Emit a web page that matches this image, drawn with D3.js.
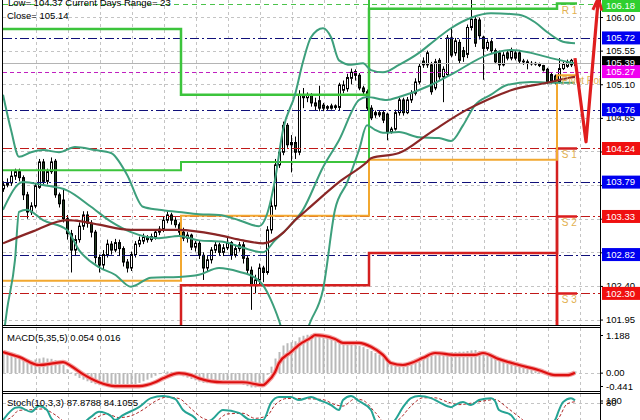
<!DOCTYPE html>
<html><head><meta charset="utf-8">
<script src="https://cdn.jsdelivr.net/npm/d3@7"></script>
<style>body{margin:0;background:#fff}svg{display:block}text{font-family:"Liberation Sans",Arial,sans-serif}</style>
</head><body><svg id="c" width="640" height="420"></svg>
<script>
// ---------- DATA ----------
const openP = [103.70,103.75,103.78,103.87,103.93,103.85,103.62,103.39,103.47,103.72,104.06,103.80,103.93,104.07,103.62,103.55,103.30,103.10,102.88,103.02,103.20,103.35,103.24,103.12,102.78,102.68,102.82,102.96,102.88,102.98,102.90,102.72,102.64,102.82,102.96,103.00,103.05,103.02,103.06,103.12,103.16,103.28,103.35,103.28,103.22,
103.12,103.04,103.08,102.92,102.97,102.81,102.64,102.75,102.88,102.95,102.85,102.91,102.98,102.81,102.90,102.95,102.77,102.61,102.41,102.48,102.64,102.58,103.15,103.47,104.02,104.19,104.55,104.29,104.32,104.19,104.96,104.92,104.95,104.85,104.88,104.82,104.80,104.78,104.81,104.79,105.02,105.04,105.18,105.27,105.22,105.05,105.00,
104.78,104.72,104.69,104.72,104.70,104.46,104.50,104.72,104.89,104.72,104.89,104.98,105.13,105.41,105.36,105.36,105.05,105.42,105.20,105.23,105.72,105.52,105.66,105.55,105.50,105.86,105.97,105.96,105.73,105.58,105.67,105.55,105.52,105.36,105.52,105.45,105.52,105.52,105.41,105.40,105.38,105.38,105.37,105.35,105.30,105.23,105.21,
105.13,105.31,105.34,105.36,105.35];
const highP = [103.80,103.84,103.95,103.97,103.97,103.88,103.66,103.52,103.78,104.10,104.10,103.97,104.12,104.10,103.65,103.70,103.35,103.15,103.08,103.25,103.40,103.40,103.28,103.15,102.82,102.88,103.02,103.00,103.03,103.02,102.93,102.76,102.86,103.00,103.06,103.10,103.08,103.10,103.15,103.20,103.33,103.40,103.38,103.32,103.25,
103.18,103.12,103.10,103.00,103.00,102.85,102.80,102.92,103.00,102.98,102.96,103.06,103.00,102.95,102.99,102.99,102.80,102.66,102.55,102.70,102.67,103.20,103.58,104.10,104.25,104.60,104.58,104.42,104.40,105.02,105.05,104.99,104.98,104.92,105.08,104.85,104.82,104.84,104.83,105.12,105.15,105.24,105.31,105.30,105.25,105.08,105.03,
104.82,104.75,104.75,104.75,104.72,104.53,104.76,104.92,104.92,104.93,105.02,105.18,105.38,105.46,105.55,105.40,105.44,105.45,105.34,105.76,105.86,105.72,105.70,105.60,105.90,106.23,106.00,105.99,105.75,105.70,105.70,105.58,105.55,105.53,105.56,105.59,105.55,105.56,105.44,105.43,105.41,105.40,105.39,105.36,105.32,105.25,105.23,
105.45,105.40,105.43,105.44,105.44];
const lowP = [103.66,103.72,103.74,103.82,103.80,103.55,103.30,103.35,103.44,103.70,103.76,103.76,103.90,103.58,103.45,103.25,103.02,102.58,102.80,102.98,103.15,103.18,103.05,102.70,102.58,102.62,102.78,102.82,102.85,102.80,102.66,102.58,102.60,102.78,102.92,102.96,102.98,102.99,103.02,103.08,103.12,103.24,103.22,103.18,103.08,
103.00,102.98,102.88,102.86,102.76,102.48,102.60,102.70,102.84,102.80,102.80,102.88,102.75,102.78,102.86,102.70,102.55,102.08,102.30,102.40,102.45,102.55,103.10,103.42,103.98,104.15,104.25,103.92,104.10,104.15,104.78,104.86,104.80,104.75,104.74,104.74,104.75,104.76,104.76,104.75,104.98,105.00,105.10,105.15,105.02,104.95,104.75,
104.62,104.65,104.66,104.58,104.35,104.44,104.48,104.68,104.68,104.70,104.85,104.95,105.10,105.32,105.32,104.96,105.02,105.16,104.86,105.20,105.46,105.48,105.38,105.40,105.45,105.82,105.60,105.70,105.16,105.55,105.52,105.37,105.29,105.34,105.42,105.42,105.42,105.38,105.36,105.30,105.35,105.35,105.33,105.27,105.10,105.11,105.10,
105.11,105.29,105.32,105.33,105.33];
const closeP = [103.75,103.78,103.87,103.93,103.85,103.62,103.39,103.47,103.74,104.06,103.80,103.93,104.06,103.62,103.50,103.30,103.10,102.88,103.02,103.20,103.35,103.24,103.12,102.78,102.68,102.82,102.96,102.88,102.98,102.90,102.72,102.64,102.82,102.96,103.01,103.05,103.02,103.06,103.12,103.16,103.28,103.35,103.28,103.22,103.12,
103.04,103.08,102.92,102.97,102.81,102.64,102.75,102.88,102.95,102.85,102.91,102.98,102.81,102.90,102.95,102.77,102.61,102.41,102.48,102.64,102.58,103.15,103.47,104.02,104.19,104.55,104.29,104.32,104.19,104.96,104.92,104.95,104.85,104.81,104.78,104.78,104.78,104.81,104.79,105.09,105.09,105.19,105.26,105.22,105.05,105.00,104.78,
104.65,104.69,104.72,104.62,104.46,104.50,104.72,104.89,104.72,104.89,104.98,105.13,105.34,105.36,105.52,105.00,105.40,105.20,105.30,105.72,105.49,105.68,105.42,105.47,105.86,105.97,105.65,105.75,105.58,105.66,105.55,105.40,105.36,105.49,105.45,105.55,105.45,105.41,105.40,105.39,105.38,105.37,105.35,105.29,105.13,105.14,105.12,
105.31,105.37,105.40,105.42,105.39];

// Bollinger-type bands & MA (index, price)
const bbUpperIdx = [0,2,4,7,10,14,18,23,27,31,35,39,44,49,54,59,64,66,68,70,73,75,77,80,82,84,87,90,92,95,99,104,108,112,117,122,129,133,136,140,143];
const bbUpper = [104.96,104.49,104.13,104.19,104.22,104.19,104.26,104.22,104.18,103.89,103.46,103.42,103.39,103.36,103.35,103.28,103.20,103.36,103.82,104.49,104.96,105.40,105.73,105.85,105.73,105.42,105.36,105.38,105.29,105.26,105.36,105.52,105.69,105.85,105.99,106.05,106.03,105.93,105.80,105.67,105.65];
const bbMidIdx = [0,5,10,16,22,27,32,39,44,49,55,60,65,68,72,75,80,84,89,91,96,99,107,113,121,127,132,137,143];
const bbMid = [103.42,103.79,103.75,103.68,103.46,103.26,103.12,103.04,103.07,103.01,102.99,102.91,102.85,103.01,103.22,103.42,103.99,104.35,104.89,104.93,104.89,104.93,105.09,105.26,105.49,105.56,105.52,105.45,105.38];
const bbLowerIdx = [0,1,3,4,6,10,16,19,24,28,32,37,44,49,54,59,63,65,67,69,71,74,77,80,83,86,89,91,93,95,99,104,109,112,115,118,122,126,132,139,143];
const bbLower = [101.68,102.08,102.75,103.39,103.42,103.28,103.15,102.88,102.65,102.55,102.39,102.51,102.52,102.55,102.64,102.59,102.51,102.41,102.21,101.94,101.61,101.61,101.94,102.35,103.42,103.78,104.22,104.55,104.49,104.45,104.46,104.39,104.38,104.34,104.55,104.82,104.96,105.09,105.13,105.12,105.12];
const maIdx = [0,7,16,20,24,32,44,54,60,65,70,73,76,84,91,92,99,107,116,121,127,136,141,143];
const maVal = [102.97,103.12,103.28,103.26,103.22,103.15,103.15,103.08,103.01,102.97,103.11,103.28,103.42,103.79,104.06,104.11,104.18,104.46,104.76,104.89,105.02,105.12,105.18,105.20];

// daily step levels (4 days)
const dayStart = [0,44.5,91.5,138.5];
const dayEnd = 143.5;
const upperStep = [105.84,104.96,106.11,106.18];
const upperStep2 = [103.95,104.06,106.50,106.50];
const pivotStep = [102.47,103.34,104.09,105.22];
const s1Step = [101.70,102.41,102.84,104.24];
const s2Step = [101.60,101.60,101.60,103.33];
const s3Step = [101.60,101.60,101.60,102.30];
const pivotNames = ["R 1","Pivot Point","S 1","S 2","S 3"];
const pivotLabelLevels = [106.18,105.22,104.24,103.33,102.30];

// horizontal price levels
const levels = [106.18,105.72,105.39,105.27,104.76,104.24,103.79,103.33,102.82,102.30];
const levelKind = ["res","mid","price","piv","mid","sup","mid","sup","mid","sup"];
const priceTicks = [106.00,105.55,105.10,104.65,104.20,103.75,103.30,102.85,102.40,101.95];

// forecast arrow
const arrowIdx = [143,145.75,148.75];
const arrowPrice = [105.45,104.33,106.20];

// MACD(5,35,5)
const macdHist = [0.60,0.58,0.55,0.52,0.50,0.45,0.40,0.38,0.42,0.45,0.48,0.45,0.44,0.40,0.33,0.25,0.12,0.02,-0.08,-0.15,
-0.20,-0.25,-0.30,-0.34,-0.37,-0.40,-0.42,-0.43,-0.44,-0.44,-0.44,-0.43,-0.40,-0.36,-0.30,-0.25,-0.20,-0.14,-0.08,-0.03,
0.02,0.05,0.04,0.00,-0.05,-0.10,-0.14,-0.18,-0.22,-0.26,-0.30,-0.31,-0.30,-0.29,-0.30,-0.30,-0.30,-0.32,-0.33,-0.33,
-0.36,-0.40,-0.44,-0.44,-0.40,-0.30,-0.05,0.20,0.45,0.65,0.85,0.92,0.95,0.98,1.10,1.15,1.18,1.19,1.19,1.17,
1.12,1.08,1.04,1.00,0.96,0.94,0.92,0.90,0.87,0.84,0.80,0.74,0.68,0.62,0.56,0.48,0.40,0.32,0.26,0.22,
0.20,0.24,0.30,0.38,0.46,0.52,0.56,0.58,0.55,0.58,0.60,0.62,0.64,0.65,0.66,0.66,0.68,0.70,0.71,0.68,
0.62,0.55,0.50,0.45,0.40,0.36,0.33,0.30,0.27,0.22,0.19,0.16,0.13,0.10,0.07,0.03,-0.02,-0.05,-0.07,-0.06,
-0.04,-0.02,0.01,0.054];
const macdSigIdx = [0,4,9,13,15,17,20,24,28,34,38,40,44,47,49,55,60,65,66,68,69,72,74,77,78,80,83,85,89,92,95,97,100,102,105,108,113,118,120,124,129,134,138,141,143];
const macdSig = [0.65,0.50,0.25,0.31,0.34,0.22,-0.03,-0.28,-0.40,-0.40,-0.28,-0.16,0.0,-0.06,-0.16,-0.28,-0.28,-0.37,-0.28,0.03,0.31,0.65,0.87,1.09,1.17,1.15,1.05,0.93,0.93,0.81,0.56,0.31,0.25,0.31,0.47,0.62,0.56,0.56,0.62,0.43,0.25,0.09,-0.06,-0.06,0.016];
const macdTicks = [1.188,0.00,-0.441];

// Stochastic(10,3,3)
const stochKIdx = [0,1,3,4,7,9,11,12,14,18,22,24,27,28,30,34,37,40,43,45,48,49,52,55,59,62,65,67,69,72,74,77,79,82,84,85,87,89,92,93,95,98,100,102,104,107,109,112,113,115,117,119,122,123,124,127,128,130,135,138,139,140,142,143];
const stochK = [33,47,67,69,56,72,61,39,22,11,42,56,44,33,47,69,94,100,92,61,39,25,33,61,53,33,33,81,97,97,89,97,89,75,61,89,100,86,61,33,11,33,69,94,100,94,83,69,75,83,75,89,94,86,61,47,33,11,11,33,61,83,94,87.88];
const stochDIdx = [0,2,4,7,10,13,16,20,23,26,29,32,35,38,41,44,47,50,53,56,60,63,66,68,71,74,77,80,83,85,88,90,93,96,99,102,105,108,111,114,117,120,123,126,129,132,136,139,141,143];
const stochD = [30,40,60,62,64,48,25,20,38,50,40,45,62,85,97,93,65,38,30,50,52,38,45,75,93,93,92,90,76,72,92,88,55,22,35,72,95,95,84,76,80,86,90,68,42,18,12,40,78,84.11];
const stochTicks = [100,80];

// ---------- DRAW ----------
const svg = d3.select("#c");
svg.append("rect").attr("width",640).attr("height",420).attr("fill","#fff");
const W = 600, mainB = 325;
const xS = d3.scaleLinear().domain([0,143]).range([3,575]);
const yS = d3.scaleLinear().domain([101.877,106.228]).range([mainB,0]);
const yM = d3.scaleLinear().domain([-0.441,1.188]).range([387.5,334.5]);
const yK = d3.scaleLinear().domain([0,100]).range([432,396]);

const defs = svg.append("defs");
defs.append("clipPath").attr("id","cm").append("rect").attr("x",3).attr("y",0).attr("width",W-3).attr("height",mainB);
defs.append("clipPath").attr("id","cd").append("rect").attr("x",3).attr("y",328).attr("width",W-3).attr("height",63);
defs.append("clipPath").attr("id","ck").append("rect").attr("x",3).attr("y",394).attr("width",W-3).attr("height",26);

const gridIdx = d3.range(8.25,145,8);
const gridCol = "#c4c4c4";
function vgrid(g,y0,y1){
  g.selectAll(null).data(gridIdx).join("line")
   .attr("x1",d=>Math.round(xS(d))+0.5).attr("x2",d=>Math.round(xS(d))+0.5)
   .attr("y1",y0).attr("y2",y1).attr("stroke",gridCol).attr("stroke-dasharray","3,3");
}
// main panel
const gm = svg.append("g").attr("clip-path","url(#cm)");
vgrid(gm,0,mainB);
gm.selectAll(null).data(priceTicks).join("line")
  .attr("x1",3).attr("x2",W).attr("y1",d=>Math.round(yS(d))+0.5).attr("y2",d=>Math.round(yS(d))+0.5)
  .attr("stroke",gridCol).attr("stroke-dasharray","3,3");

// candles
const idx = d3.range(closeP.length);
gm.selectAll(null).data(idx).join("line")
  .attr("x1",i=>Math.round(xS(i))+0.5).attr("x2",i=>Math.round(xS(i))+0.5)
  .attr("y1",i=>yS(highP[i])).attr("y2",i=>yS(lowP[i])).attr("stroke","#000").attr("stroke-width",1);
gm.selectAll(null).data(idx).join("rect")
  .attr("x",i=>Math.round(xS(i))-0.5).attr("width",2)
  .attr("y",i=>Math.min(yS(openP[i]),yS(closeP[i])))
  .attr("height",i=>Math.max(0.5,Math.abs(yS(openP[i])-yS(closeP[i]))))
  .attr("fill",i=>closeP[i]>=openP[i]?"#fff":"#1f3a1f").attr("stroke","#000").attr("stroke-width",1);

// level lines
const lvStyle = {
  res:{c:"#4cc34c",d:"5,4",w:1.2},
  mid:{c:"#10107a",d:"9,3,2,3",w:1.2},
  price:{c:"#b4b4b4",d:null,w:1},
  piv:{c:"#c020c0",d:"4,3",w:1.2},
  sup:{c:"#c01818",d:"9,3,2,3",w:1.2}
};
gm.selectAll(null).data(levels).join("line")
  .attr("x1",3).attr("x2",W).attr("y1",d=>Math.round(yS(d))+0.5).attr("y2",d=>Math.round(yS(d))+0.5)
  .attr("stroke",(d,i)=>lvStyle[levelKind[i]].c).attr("stroke-width",(d,i)=>lvStyle[levelKind[i]].w)
  .attr("stroke-dasharray",(d,i)=>lvStyle[levelKind[i]].d);

// step lines
const stepLine = d3.line().x(d=>xS(d[0])).y(d=>yS(d[1])).curve(d3.curveStepAfter);
function stepPts(vals){ const p = dayStart.map((s,k)=>[s,vals[k]]); p.push([dayEnd,vals[vals.length-1]]); return p; }
function drawStep(vals,col,w){ gm.append("path").attr("d",stepLine(stepPts(vals))).attr("fill","none").attr("stroke",col).attr("stroke-width",w); }
drawStep(upperStep2,"#3cc43c",2);
drawStep(upperStep,"#3cc43c",2.5);
drawStep(s3Step,"#dc1c1c",2.5);
drawStep(s2Step,"#dc1c1c",2.5);
drawStep(s1Step,"#d42020",2.5);
drawStep(pivotStep,"#f2a830",2);

// bands and MA
const cl = d3.line().x(d=>xS(d[0])).y(d=>yS(d[1])).curve(d3.curveMonotoneX);
const bandCol = "#3d9f7c";
[[bbUpperIdx,bbUpper],[bbMidIdx,bbMid],[bbLowerIdx,bbLower]].forEach(([a,b])=>{
  gm.append("path").attr("d",cl(a.map((v,k)=>[v,b[k]]))).attr("fill","none").attr("stroke",bandCol).attr("stroke-width",2);
});
gm.append("path").attr("d",cl(maIdx.map((v,k)=>[v,maVal[k]]))).attr("fill","none").attr("stroke","#8a2626").attr("stroke-width",2.2);

// pivot labels
const gl = svg.append("g").attr("clip-path","url(#cm)");
gl.selectAll(null).data(pivotNames).join("text")
  .attr("x",xS(139.7)).attr("y",(d,i)=>yS(pivotLabelLevels[i])+(i===1?9:10))
  .attr("font-size",10).attr("fill","#e2b050").text(d=>d);

// header text
svg.append("text").attr("x",8).attr("y",6).attr("font-size",9.5).attr("fill","#000").text("Low= 104.37    Current Days Range= 23");
svg.append("text").attr("x",7).attr("y",19).attr("font-size",9.5).attr("fill","#000").text("Close= 105.14");

// MACD panel
const gd = svg.append("g").attr("clip-path","url(#cd)");
vgrid(gd,328,392);
gd.append("line").attr("x1",3).attr("x2",W).attr("y1",Math.round(yM(0))+0.5).attr("y2",Math.round(yM(0))+0.5).attr("stroke",gridCol).attr("stroke-dasharray","3,3");
gd.selectAll(null).data(macdHist).join("rect")
  .attr("x",(d,i)=>Math.round(xS(i))-0.5).attr("width",2)
  .attr("y",d=>Math.min(yM(d),yM(0))).attr("height",d=>Math.abs(yM(d)-yM(0)))
  .attr("fill","#b9b9b9");
const ml = d3.line().x(d=>xS(d[0])).y(d=>yM(d[1])).curve(d3.curveMonotoneX);
const sigPts = macdSigIdx.map((v,k)=>[v,macdSig[k]]);
gd.append("path").attr("d",ml(sigPts)).attr("fill","none").attr("stroke","#f3a0a0").attr("stroke-width",4.5);
gd.append("path").attr("d",ml(sigPts)).attr("fill","none").attr("stroke","#dd1010").attr("stroke-width",2.2);
svg.append("text").attr("x",7).attr("y",341).attr("font-size",9.5).attr("fill","#000").text("MACD(5,35,5) 0.054 0.016");

// Stoch panel
const gk = svg.append("g").attr("clip-path","url(#ck)");
vgrid(gk,394,420);
gk.append("line").attr("x1",3).attr("x2",W).attr("y1",Math.round(yK(80))+0.5).attr("y2",Math.round(yK(80))+0.5).attr("stroke",gridCol).attr("stroke-dasharray","3,3");
const kl = d3.line().x(d=>xS(d[0])).y(d=>yK(d[1])).curve(d3.curveMonotoneX);
gk.append("path").attr("d",kl(stochDIdx.map((v,k)=>[v,stochD[k]]))).attr("fill","none").attr("stroke","#b02a2a").attr("stroke-width",1).attr("stroke-dasharray","3,2");
gk.append("path").attr("d",kl(stochKIdx.map((v,k)=>[v,stochK[k]]))).attr("fill","none").attr("stroke","#25a394").attr("stroke-width",2);
svg.append("text").attr("x",7).attr("y",406).attr("font-size",9.5).attr("fill","#000").text("Stoch(10,3,3) 87.8788 84.1055");

// frames
const fr = svg.append("g").attr("stroke","#000").attr("stroke-width",1);
fr.append("line").attr("x1",2.5).attr("x2",2.5).attr("y1",0).attr("y2",420);
fr.append("line").attr("x1",W+0.5).attr("x2",W+0.5).attr("y1",0).attr("y2",420);
[325.5,327.5,391.5,393.5].forEach(v=>fr.append("line").attr("x1",2).attr("x2",W+1).attr("y1",v).attr("y2",v));

// right axes (tick labels hidden where a level box covers them)
const covered = t => levels.some(l=>Math.abs(yS(l)-yS(t))<7);
const ax = svg.append("g").attr("transform",`translate(${W},0)`)
  .call(d3.axisRight(yS).tickValues(priceTicks).tickFormat(d=>covered(d)&&Math.abs(yS(d)-yS(levels.find(l=>Math.abs(yS(l)-yS(d))<7)))<5?"":d3.format(".2f")(d)).tickSize(3).tickPadding(3));
ax.select(".domain").remove();
ax.selectAll("text").attr("font-size",9.5).attr("font-family","Liberation Sans, Arial, sans-serif").attr("fill","#000");
const axm = svg.append("g").attr("transform",`translate(${W},0)`)
  .call(d3.axisRight(yM).tickValues(macdTicks).tickFormat(d=>d===0?"0.00":String(d)).tickSize(3).tickPadding(3));
axm.select(".domain").remove();
axm.selectAll("text").attr("font-size",9.5).attr("font-family","Liberation Sans, Arial, sans-serif");
axm.selectAll(".tick").attr("transform",(d,i)=>`translate(0,${yM(d)+(i===0?1:(i===2?-1:0))})`);
const axk = svg.append("g").attr("transform",`translate(${W},0)`)
  .call(d3.axisRight(yK).tickValues(stochTicks).tickFormat(d3.format("d")).tickSize(3).tickPadding(3));
axk.select(".domain").remove();
axk.selectAll("text").attr("font-size",9.5).attr("font-family","Liberation Sans, Arial, sans-serif");
axk.selectAll(".tick").attr("transform",(d,i)=>`translate(0,${i===0?yK(d)+5:yK(d)})`);

// level boxes
const boxCol = {res:"#2fcf2f",mid:"#0000f0",price:"#000",piv:"#f000f0",sup:"#f01010"};
const lb = svg.append("g");
lb.selectAll(null).data(levels).join("rect")
  .attr("x",W+2).attr("width",38).attr("y",d=>Math.max(-1,yS(d)-6.5)).attr("height",13)
  .attr("fill",(d,i)=>boxCol[levelKind[i]]);
lb.selectAll(null).data(levels).join("text")
  .attr("x",W+6).attr("y",d=>Math.max(5.5,yS(d))).attr("dy","0.35em").attr("font-size",9.5)
  .attr("fill","#fff").text(d=>d.toFixed(2));

// red forecast arrow
const ap = arrowIdx.map((v,k)=>[xS(v),yS(arrowPrice[k])]);
svg.append("path").attr("d",d3.line()(ap)).attr("fill","none").attr("stroke","#e01e1e").attr("stroke-width",3.2).attr("stroke-linejoin","round");
const [p1,p2] = [ap[ap.length-2],ap[ap.length-1]];
const ang = Math.atan2(p2[1]-p1[1],p2[0]-p1[0]);
const hl = 13, ha = 0.35;
const tip = [p2[0]+Math.cos(ang)*4,p2[1]+Math.sin(ang)*4];
svg.append("path").attr("d",d3.line()([
  [tip[0]-hl*Math.cos(ang-ha),tip[1]-hl*Math.sin(ang-ha)],tip,[tip[0]-hl*Math.cos(ang+ha),tip[1]-hl*Math.sin(ang+ha)]]))
  .attr("fill","none").attr("stroke","#e01e1e").attr("stroke-width",3);
</script></body></html>
